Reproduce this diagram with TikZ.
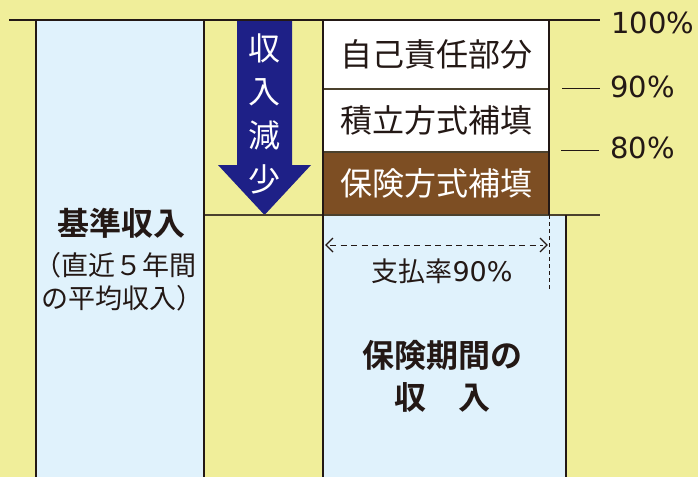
\documentclass[tikz,border=0pt]{standalone}
\usepackage{fontspec}
\setmainfont{Noto Sans CJK JP}[BoldFont={Noto Sans CJK JP Bold}]
\newfontfamily\numfont{DejaVu Sans}
\definecolor{bgyel}{RGB}{240,238,154}
\definecolor{lblue}{RGB}{224,242,252}
\definecolor{navy}{RGB}{30,32,135}
\definecolor{brownbox}{RGB}{125,78,35}
\definecolor{ink}{RGB}{35,24,21}
\definecolor{thinline}{RGB}{75,65,45}
\tikzset{
  area/.style={draw=none, inner sep=0pt, outer sep=0pt, anchor=north west},
  heavy/.style={draw=ink, line width=2pt},
  light/.style={draw=thinline, line width=1.3pt},
  bigtxt/.style={font=\fontsize{32pt}{34pt}\selectfont, text=ink, inner sep=0pt},
  boldtxt/.style={font=\bfseries\fontsize{32pt}{34pt}\selectfont, text=ink, inner sep=0pt},
  midtxt/.style={font=\fontsize{27pt}{29pt}\selectfont, text=ink, inner sep=0pt},
  pcttxt/.style={font=\numfont\fontsize{29pt}{31pt}\selectfont, text=ink, inner sep=0pt, anchor=west},
  vtxt/.style={font=\fontsize{32pt}{34pt}\selectfont, text=white, inner sep=0pt},
  chevline/.style={draw=ink, line width=1.3pt, line join=miter},
}
\begin{document}
\begin{tikzpicture}[x=1pt,y=-1pt]
\useasboundingbox (0,0) rectangle (698,477);
\fill[bgyel] (0,0) rectangle (698,477);
% areas
\node[area, fill=lblue, minimum width=168pt, minimum height=457pt] (base) at (36,20) {};
\node[area, fill=white, minimum width=226pt, minimum height=69pt] (self) at (323,20) {};
\node[area, fill=white, minimum width=226pt, minimum height=63pt] (tsumi) at (323,89) {};
\node[area, fill=brownbox, minimum width=226pt, minimum height=63pt] (hoken) at (323,152) {};
\node[area, fill=lblue, minimum width=243pt, minimum height=262pt] (lower) at (323,215) {};
% arrow
\fill[navy] (237,20) -- (292,20) -- (292,165) -- (311,165) -- (264.5,215) -- (218,165) -- (237,165) -- cycle;
\node[vtxt] (v1) at (264.5,48) {収};
\node[vtxt] (v2) at (264.5,92) {入};
\node[vtxt] (v3) at (264.5,135) {減};
\node[vtxt] (v4) at (264.5,179) {少};
% lines
\coordinate (topL) at (9,20);
\coordinate (topR) at (600,20);
\coordinate (midR) at (600,215);
\draw[heavy] (topL) -- (topR);
\draw[light] (base.north east |- hoken.south) -- (midR);
\draw[light] (self.south west) -- (self.south east);
\draw[light] (tsumi.south west) -- (tsumi.south east);
\draw[heavy] (base.north west) -- (base.south west);
\draw[heavy] (base.north east) -- (base.south east);
\draw[heavy] (self.north west) -- (lower.south west);
\draw[heavy] (self.north east) -- (hoken.south east);
\draw[heavy] (lower.north east) -- (lower.south east);
% dashed measure
\coordinate (dL) at (326,245);
\coordinate (dR) at (547,245);
\coordinate (dvB) at (549,289);
\draw[ink, line width=1pt, dash pattern=on 6pt off 4.5pt] ([xshift=4pt]dL) -- ([xshift=-4pt]dR);
\draw[chevline] ([shift={(7,-7)}]dL) -- (dL) -- ([shift={(7,7)}]dL);
\draw[chevline] ([shift={(-7,-7)}]dR) -- (dR) -- ([shift={(-7,7)}]dR);
\draw[ink, line width=1pt, dash pattern=on 4pt off 3pt] (hoken.south east) -- (dvB);
% ticks
\coordinate (t90a) at (562,88); \coordinate (t90b) at (600,88);
\coordinate (t80a) at (561,150); \coordinate (t80b) at (599,150);
\draw[ink, line width=1pt] (t90a) -- (t90b);
\draw[ink, line width=1pt] (t80a) -- (t80b);
\node[pcttxt] (p100) at (611,23) {100\%};
\node[pcttxt] (p90) at (610,87) {90\%};
\node[pcttxt] (p80) at (610,148) {80\%};
% texts
\node[bigtxt] (tself) at (self.center) {自己責任部分};
\node[bigtxt] (ttsumi) at (tsumi.center) {積立方式補填};
\node[bigtxt, text=white] (thoken) at (hoken.center) {保険方式補填};
\node[midtxt] (tpay) at (442,271) {支払率{\numfont 90\%}};
\node[boldtxt] (tper1) at (442,355) {保険期間の};
\node[boldtxt] (tper2) at (442,397) {収　入};
\node[boldtxt] (tbase) at (121,223) {基準収入};
\node[midtxt] (tb2) at (115,265) {（直近５年間};
\node[midtxt] (tb3) at (122,298) {の平均収入）};
\end{tikzpicture}
\end{document}
